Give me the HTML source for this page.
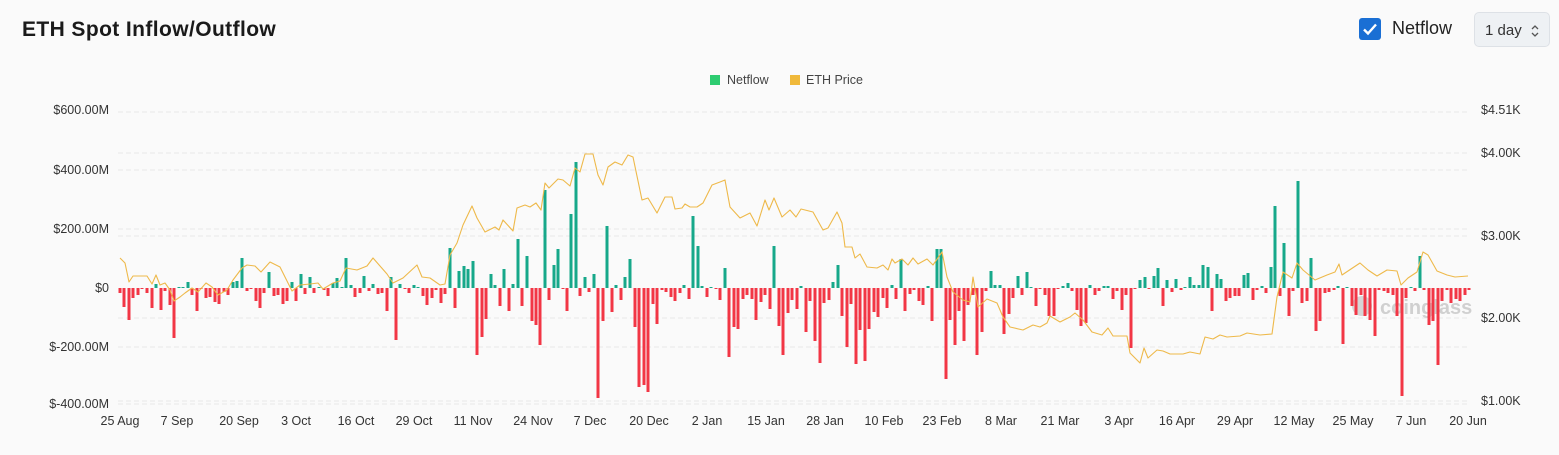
<!DOCTYPE html>
<html><head><meta charset="utf-8"><style>
body{margin:0;width:1559px;height:455px;background:#fafafa;font-family:"Liberation Sans",sans-serif;overflow:hidden;position:relative}
.t{position:absolute;left:22px;top:18px;font-size:21px;font-weight:bold;color:#1a1a1a;letter-spacing:0.4px}
.cb{position:absolute;left:1359px;top:18px;width:22px;height:22px;background:#1a6fd4;border-radius:3px}
.nf{position:absolute;left:1392px;top:18px;font-size:18px;color:#222}
.sel{position:absolute;left:1474px;top:12px;width:76px;height:35px;background:#eef1f4;border:1px solid #dde1e6;border-radius:5px;box-sizing:border-box;font-size:15px;color:#333;padding:9px 0 0 10px;white-space:nowrap}
svg{position:absolute;left:0;top:0}
</style></head><body>
<div class="t">ETH Spot Inflow/Outflow</div>
<div class="cb"><svg width="22" height="22" viewBox="0 0 22 22"><path d="M5 11.5l4 4 8-9" stroke="#fff" stroke-width="2.4" fill="none"/></svg></div>
<div class="nf">Netflow</div>
<div class="sel">1 day<svg style="position:absolute;left:55px;top:10px" width="10" height="16" viewBox="0 0 10 16"><path d="M2 6l3-3 3 3M2 10l3 3 3-3" stroke="#555" stroke-width="1.3" fill="none"/></svg></div>
<svg id="c" width="1559" height="455" style="pointer-events:none"></svg>
<script>
var s='';
[112,153,170,229,236,318,347,401,404].forEach(function(y){s+='<line x1="118" x2="1470" y1="'+y+'" y2="'+y+'" stroke="#e8e8e8" stroke-dasharray="5,3"/>';});
var L=[[600,110],[400,170],[200,229],[0,288],[-200,347],[-400,404]];
L.forEach(function(a){var t=a[0]<0?'$-'+(-a[0])+'.00M':(a[0]==0?'$0':'$'+a[0]+'.00M');s+='<text x="109" y="'+(a[1]+4)+'" text-anchor="end" font-size="12.5" fill="#333">'+t+'</text>';});
[['$4.51K',110],['$4.00K',153],['$3.00K',236],['$2.00K',318],['$1.00K',401]].forEach(function(a){s+='<text x="1481" y="'+(a[1]+4)+'" font-size="12.5" fill="#333">'+a[0]+'</text>';});
var X=[['25 Aug',120],['7 Sep',177],['20 Sep',239],['3 Oct',296],['16 Oct',356],['29 Oct',414],['11 Nov',473],['24 Nov',533],['7 Dec',590],['20 Dec',649],['2 Jan',707],['15 Jan',766],['28 Jan',825],['10 Feb',884],['23 Feb',942],['8 Mar',1001],['21 Mar',1060],['3 Apr',1119],['16 Apr',1177],['29 Apr',1235],['12 May',1294],['25 May',1353],['7 Jun',1411],['20 Jun',1468]];
X.forEach(function(a){s+='<text x="'+a[1]+'" y="425" text-anchor="middle" font-size="12.5" fill="#333">'+a[0]+'</text>';});
s+='<rect x="710" y="75" width="10" height="10" fill="#2ecc71"/><text x="727" y="84" font-size="12.5" fill="#444">Netflow</text>';
s+='<rect x="790" y="75" width="10" height="10" fill="#f0b93b"/><text x="806" y="84" font-size="12.5" fill="#444">ETH Price</text>';
s+='<text x="1380" y="314" font-size="20" font-weight="bold" fill="#d0d0d0">coinglass</text><circle cx="1362" cy="306" r="10" fill="#d5d5d5"/>';
var B=[120,-5,124,-19,129,-32,133,-10,138,-7,142,-1,147,-5,152,-20,156,4,161,-22,165,-3,170,-17,174,-50,179,1,183,1,188,6,192,-7,197,-23,201,-1,206,-10,210,-9,215,-14,219,-16,224,-4,228,-7,233,6,237,7,242,30,247,-3,251,-1,256,-13,260,-20,264,-5,269,16,274,-8,278,-7,283,-16,287,-13,292,6,296,-13,301,14,305,-6,310,11,314,-5,319,1,324,-2,328,-8,333,5,337,10,342,1,346,30,351,3,355,-9,360,-5,364,12,369,-3,373,4,378,-6,382,-5,387,-23,391,11,396,-52,400,4,405,-1,409,-5,414,3,418,1,423,-8,427,-17,432,-10,436,-2,441,-15,445,-6,450,40,455,-20,459,17,464,22,468,19,473,27,477,-67,482,-49,486,-31,491,14,495,3,500,-18,504,19,509,-23,513,4,518,49,522,-18,527,32,532,-33,536,-37,540,-57,545,98,549,-12,554,23,558,39,563,-1,567,-23,571,74,576,126,580,-8,585,11,589,-4,594,14,598,-110,603,-33,607,62,612,-24,616,3,621,-12,625,11,630,29,635,-39,639,-99,644,-97,648,-104,653,-16,657,-36,662,-2,666,-4,671,-9,675,-13,680,-5,684,3,689,-11,693,72,698,42,702,2,707,-9,711,1,716,-1,720,-12,725,20,729,-69,734,-39,738,-41,743,-11,747,-7,752,-11,756,-32,761,-14,765,-7,770,-21,774,42,779,-38,783,-67,788,-25,792,-12,797,-21,801,2,806,-44,810,-13,815,-53,820,-75,824,-15,829,-12,833,6,838,23,842,-28,847,-59,851,-16,856,-76,860,-42,865,-73,869,-41,874,-24,878,-29,883,-10,887,-20,892,3,896,-11,901,29,905,-23,910,-6,914,-2,919,-13,923,-17,928,2,932,-33,937,39,941,39,946,-91,950,-32,955,-57,959,-23,964,-53,968,-17,973,-7,977,-67,982,-44,986,-3,991,17,995,3,1000,3,1004,-46,1009,-26,1013,-10,1018,12,1022,-7,1027,16,1031,1,1036,-18,1040,-1,1045,-7,1049,-28,1054,-28,1058,-1,1063,2,1068,5,1072,-3,1077,-22,1081,-38,1086,-35,1090,3,1095,-7,1099,-3,1104,2,1108,2,1113,-11,1117,-3,1122,-22,1126,-7,1131,-60,1135,-1,1140,8,1145,11,1149,-1,1154,12,1158,20,1163,-18,1167,8,1172,-4,1176,9,1181,-2,1185,1,1190,11,1194,3,1199,3,1203,23,1208,21,1212,-23,1217,14,1221,9,1226,-13,1230,-10,1235,-8,1239,-8,1244,13,1248,15,1253,-12,1257,-2,1262,2,1266,-5,1271,21,1275,82,1280,-8,1284,45,1289,-28,1293,-3,1298,107,1302,-15,1307,-13,1311,30,1316,-43,1320,-33,1325,-5,1329,-4,1334,-2,1338,2,1343,-56,1347,1,1352,-18,1356,-27,1361,-7,1365,-28,1370,-32,1375,-48,1379,-2,1384,-3,1388,-5,1393,-7,1397,-28,1402,-108,1406,-10,1411,1,1415,-3,1420,32,1424,-2,1429,-37,1433,-33,1438,-77,1442,-13,1447,-2,1451,-15,1456,-11,1460,-13,1465,-7,1469,-2];
for(var i=0;i<B.length;i+=2){var x=B[i],h=B[i+1];if(h>=0)s+='<rect x="'+(x-1.5)+'" y="'+(288-h)+'" width="3" height="'+Math.max(h,0.8)+'" fill="#17a88a"/>';else s+='<rect x="'+(x-1.5)+'" y="288" width="3" height="'+(-h)+'" fill="#f23645"/>';}
var P=[120,258,125,263,129,282,133,276,147,276,152,284,156,275,160,285,165,283,170,290,174,301,180,297,185,293,192,288,198,292,206,283,212,287,218,295,227,290,233,280,242,268,247,265,255,266,261,272,270,262,280,267,285,277,292,291,300,285,310,284,318,283,323,289,333,283,340,281,346,268,357,270,367,266,373,258,380,266,387,274,393,283,403,278,417,265,422,277,430,278,440,285,445,284,450,255,457,243,463,225,472,206,477,218,485,232,495,227,499,230,503,220,513,231,517,208,525,205,530,207,536,203,541,210,545,183,549,188,558,179,563,180,570,186,575,168,580,172,585,154,593,154,598,175,603,185,608,167,615,162,622,165,628,155,633,157,642,200,648,198,657,213,665,197,672,197,675,209,682,208,685,204,690,207,697,207,703,203,712,185,720,182,725,180,730,207,740,218,750,213,757,226,765,200,769,210,774,198,782,217,790,210,796,217,801,209,813,212,823,230,828,228,837,212,842,223,845,247,852,247,855,258,860,254,867,267,877,268,883,265,888,270,892,259,895,263,902,259,908,265,913,258,918,264,927,259,933,265,942,252,947,277,953,292,963,300,970,302,973,277,978,307,987,299,997,303,1003,317,1010,327,1023,330,1033,325,1040,327,1047,323,1050,316,1060,322,1070,317,1075,313,1083,320,1092,332,1102,335,1108,328,1113,336,1127,336,1130,353,1140,363,1144,348,1148,358,1157,350,1163,351,1170,354,1183,354,1190,352,1200,354,1205,337,1213,339,1220,335,1227,337,1240,336,1247,333,1260,335,1272,334,1277,297,1283,272,1292,278,1297,263,1303,270,1315,280,1327,275,1335,272,1339,264,1342,275,1360,263,1368,270,1377,276,1387,270,1397,271,1401,285,1408,278,1417,272,1423,252,1428,255,1437,271,1447,275,1455,277,1468,276];
var d='M'+P[0]+' '+P[1];for(var i=2;i<P.length;i+=2)d+=' L'+P[i]+' '+P[i+1];
s+='<path d="'+d+'" fill="none" stroke="#eeb94a" stroke-width="1.1" stroke-linejoin="round"/>';
document.getElementById('c').innerHTML=s;
</script>
</body></html>
